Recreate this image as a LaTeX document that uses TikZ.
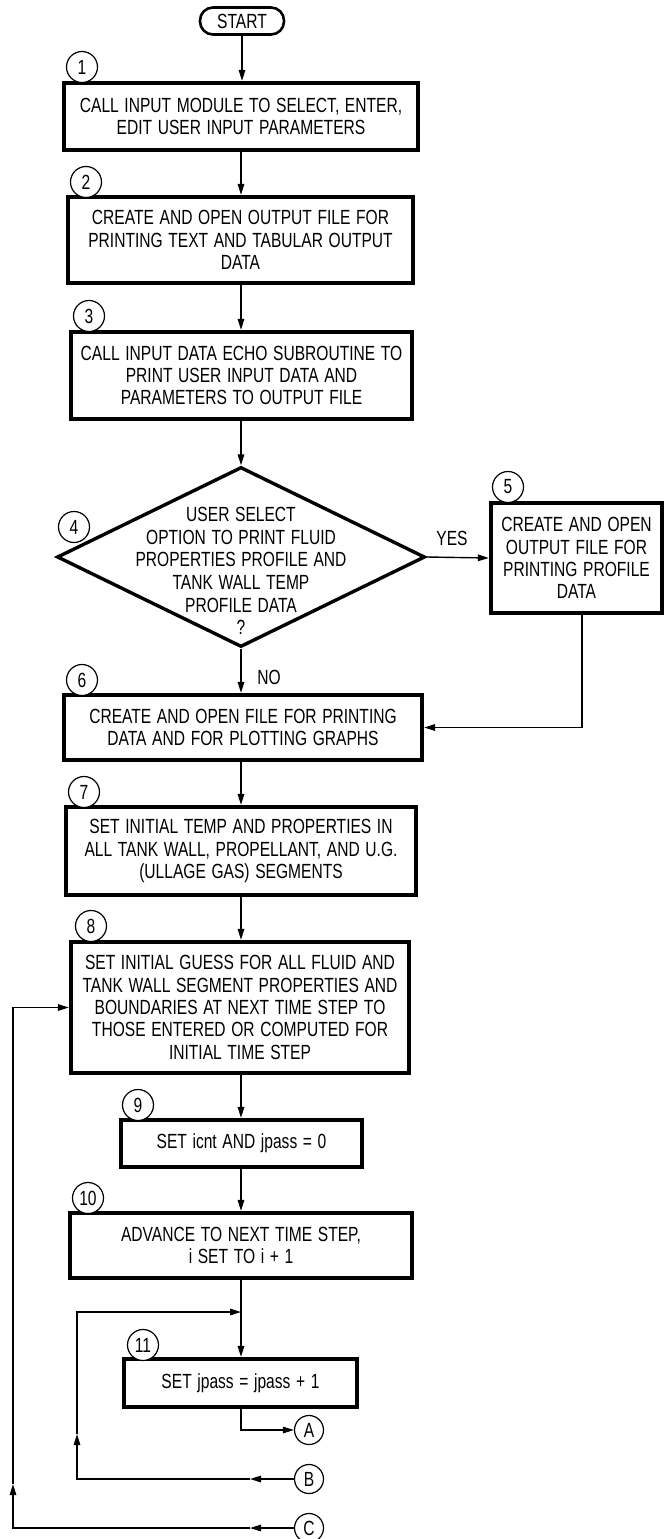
\documentclass[tikz,border=0pt]{standalone}
\usepackage{fontspec}
\setmainfont{Liberation Sans}[FakeStretch=0.76,WordSpace=1.3]
\usetikzlibrary{shapes.geometric,arrows.meta,calc}
\tikzset{
  box/.style={draw, line width=4.2pt, align=center, inner sep=0pt, font=\fontsize{20.5}{22.3}\selectfont},
  num/.style={circle, draw, line width=1.2pt, minimum size=31pt, inner sep=0pt, fill=white, font=\fontsize{20.5}{22}\selectfont},
  lbl/.style={inner sep=0pt, font=\fontsize{20.5}{22.6}\selectfont, align=center},
  ln/.style={line width=1.4pt},
  arr/.style={line width=1.4pt, -{Triangle[length=11pt,width=6.5pt]}},
  term/.style={draw, line width=2.6pt, rounded corners=13pt, minimum width=84pt, minimum height=27pt, inner sep=0pt, font=\fontsize{20.5}{22}\selectfont}
}
\begin{document}
\begin{tikzpicture}[x=1pt,y=-1pt]
\useasboundingbox (0,0) rectangle (666,1539);
% start
\node[term] (start) at (242,21) {START};
% boxes
\node[box, minimum width=354pt, minimum height=67pt] (b1) at (241,116.5) {CALL INPUT MODULE TO SELECT, ENTER,\\EDIT USER INPUT PARAMETERS};
\node[num] (n1) at (82,67) {1};
\node[box, minimum width=345pt, minimum height=86pt] (b2) at (240.5,240) {CREATE AND OPEN OUTPUT FILE FOR\\PRINTING TEXT AND TABULAR OUTPUT\\DATA};
\node[num] (n2) at (86,182) {2};
\node[box, minimum width=341pt, minimum height=87pt] (b3) at (241.5,375.5) {CALL INPUT DATA ECHO SUBROUTINE TO\\PRINT USER INPUT DATA AND\\PARAMETERS TO OUTPUT FILE};
\node[num] (n3) at (89,316) {3};
% decision
\node[diamond, draw, line width=3.4pt, minimum width=368pt, minimum height=180pt, inner sep=0pt] (d4) at (241,557) {};
\node[lbl] (t4) at (241,571) {USER SELECT\\OPTION TO PRINT FLUID\\PROPERTIES PROFILE AND\\TANK WALL TEMP\\PROFILE DATA\\?};
\node[num] (n4) at (74,527) {4};
\node[lbl] (yes) at (452,538) {YES};
\node[box, minimum width=171pt, minimum height=110pt] (b5) at (576.5,558) {CREATE AND OPEN\\OUTPUT FILE FOR\\PRINTING PROFILE\\DATA};
\node[num] (n5) at (508,487) {5};
\node[lbl] (no) at (269,677) {NO};
\node[box, minimum width=358pt, minimum height=65pt] (b6) at (243,727.5) {CREATE AND OPEN FILE FOR PRINTING\\DATA AND FOR PLOTTING GRAPHS};
\node[num] (n6) at (82,680) {6};
\node[box, minimum width=350pt, minimum height=88pt] (b7) at (241,851) {SET INITIAL TEMP AND PROPERTIES IN\\ALL TANK WALL, PROPELLANT, AND U.G.\\(ULLAGE GAS) SEGMENTS};
\node[num] (n7) at (84,792) {7};
\node[box, minimum width=338pt, minimum height=131pt] (b8) at (240,1007.5) {SET INITIAL GUESS FOR ALL FLUID AND\\TANK WALL SEGMENT PROPERTIES AND\\BOUNDARIES AT NEXT TIME STEP TO\\THOSE ENTERED OR COMPUTED FOR\\INITIAL TIME STEP};
\node[num] (n8) at (91,926) {8};
\node[box, minimum width=241pt, minimum height=47pt] (b9) at (241.5,1143.5) {SET icnt AND jpass = 0};
\node[num] (n9) at (138,1105) {9};
\node[box, minimum width=342pt, minimum height=65pt] (b10) at (241,1245.5) {ADVANCE TO NEXT TIME STEP,\\i SET TO i + 1};
\node[num] (n10) at (88,1198) {10};
\node[box, minimum width=233pt, minimum height=48pt] (b11) at (240.5,1383) {SET jpass = jpass + 1};
\node[num] (n11) at (143,1345) {11};
\node[num, minimum size=29pt] (cA) at (309,1430) {A};
\node[num, minimum size=29pt] (cB) at (309,1479) {B};
\node[num, minimum size=29pt] (cC) at (309,1528) {C};
% coordinates
\coordinate (j5) at (582,613);
\coordinate (k5) at (582,727.5);
\coordinate (jB) at (241,1312);
\coordinate (bm) at (250,1479);
\coordinate (bl) at (77,1479);
\coordinate (bu) at (77,1434);
\coordinate (bt) at (77,1312);
\coordinate (cm) at (250,1528);
\coordinate (cl) at (13,1528);
\coordinate (cu) at (13,1484);
\coordinate (ct) at (13,1007.5);
% connectors
\draw[arr] (start.south) -- (b1.north -| start.south);
\draw[arr] (b1.south) -- (b2.north -| b1.south);
\draw[arr] (b2.south -| b1.south) -- (b3.north -| b1.south);
\draw[arr] (b3.south -| b1.south) -- (d4.north);
\draw[arr] (d4.east) -- (b5.west);
\draw[arr] (d4.south) -- (b6.north -| d4.south);
\draw[ln] (j5) -- (k5);
\draw[arr] (k5) -- (b6.east);
\draw[arr] (b6.south -| d4.south) -- (b7.north -| d4.south);
\draw[arr] (b7.south -| d4.south) -- (b8.north -| d4.south);
\draw[arr] (b8.south -| d4.south) -- (b9.north -| d4.south);
\draw[arr] (b9.south -| d4.south) -- (b10.north -| d4.south);
\draw[arr] (b10.south -| d4.south) -- (b11.north -| d4.south);
\draw[arr] (b11.south -| d4.south) |- (cA.west);
\draw[arr] (cB.west) -- (bm);
\draw[arr] (bm) -- (bl) -- (bu);
\draw[arr] (bu) -- (bt) -- (jB);
\draw[arr] (cC.west) -- (cm);
\draw[arr] (cm) -- (cl) -- (cu);
\draw[arr] (cu) -- (ct) -- (b8.west);
\end{tikzpicture}
\end{document}
